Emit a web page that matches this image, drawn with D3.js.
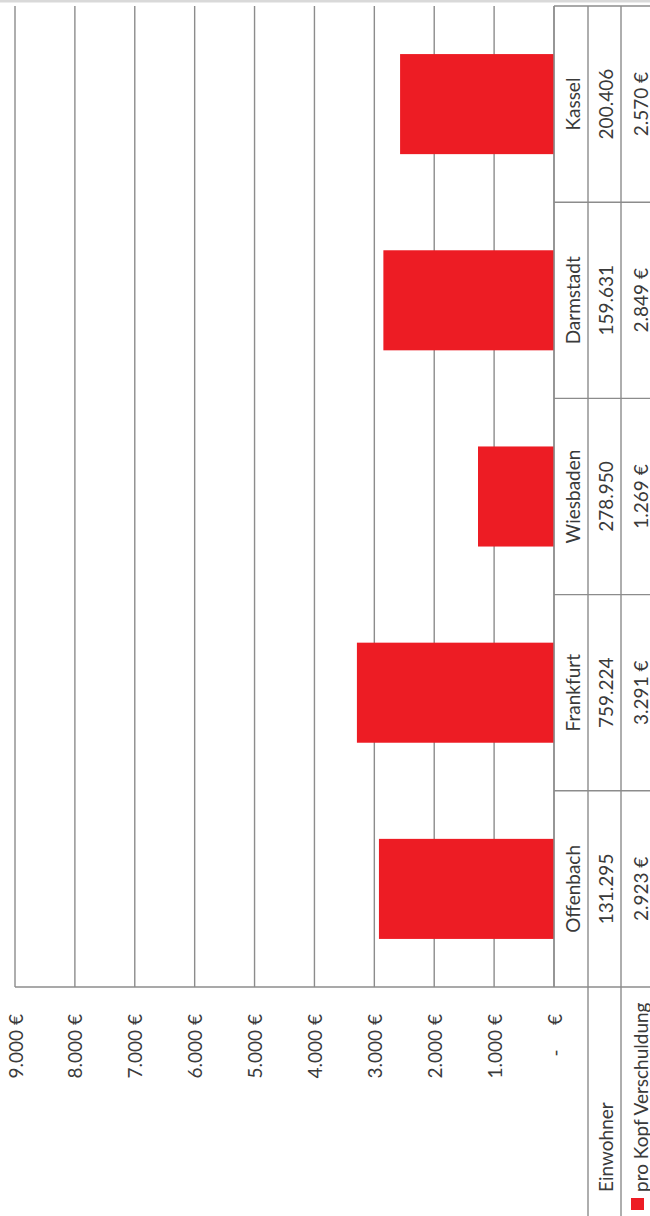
<!DOCTYPE html>
<html>
<head>
<meta charset="utf-8">
<script src="https://cdn.jsdelivr.net/npm/d3@7"></script>
<style>
  html, body { margin: 0; padding: 0; background: #fff; }
  svg { display: block; }
  text { font-family: Lato, "Open Sans", sans-serif; fill: #3a3a3a; }
</style>
</head>
<body>
<svg id="chart" width="650" height="1216"></svg>
<script>
// Kommunale Verschuldung pro Kopf, hessische Großstädte
const categories = ["Offenbach", "Frankfurt", "Wiesbaden", "Darmstadt", "Kassel"];
const einwohner  = [131295, 759224, 278950, 159631, 200406];
const proKopf    = [2923, 3291, 1269, 2849, 2570];
const tickValues = [0, 1000, 2000, 3000, 4000, 5000, 6000, 7000, 8000, 9000];
const rowLabels  = ["Einwohner", "pro Kopf Verschuldung"];

const de = d3.formatLocale({
  decimal: ",", thousands: ".", grouping: [3], currency: ["", " €"]
});
const fmtInt = de.format(",d");
const fmtEur = v => v === 0 ? "-     €" : fmtInt(v) + " €";

const svg = d3.select("#chart");
const FS = 19;
const gridColor = "#8c8c8c";

// the chart is drawn turned on its side: value axis runs right-to-left
const plotTop = 6, axisY = 987;
const x = d3.scaleLinear().domain([0, 9000]).range([554, 15]);
const cell = d3.scaleBand().domain(categories).range([axisY, plotTop]).padding(0);
const bar = d3.scaleBand().domain(categories).range([axisY, plotTop])
  .paddingInner(0.49).paddingOuter(0.245);

// table column positions (category name, Einwohner, pro Kopf)
const colEdges = [x(0), 588, 621, 660];
const colMid = i => (colEdges[i] + colEdges[i + 1]) / 2;

// outer frame strip
svg.append("rect").attr("x", 0).attr("y", 0).attr("width", 650).attr("height", 2.5)
  .attr("fill", "#d9d9d9");

// gridlines
svg.append("g").selectAll("line").data(tickValues).join("line")
  .attr("x1", d => x(d)).attr("x2", d => x(d))
  .attr("y1", plotTop).attr("y2", axisY)
  .attr("stroke", gridColor).attr("stroke-width", 1.4);

// bars
svg.append("g").selectAll("rect").data(categories).join("rect")
  .attr("x", (d, i) => x(proKopf[i]))
  .attr("y", d => bar(d))
  .attr("width", (d, i) => x(0) - x(proKopf[i]))
  .attr("height", bar.bandwidth())
  .attr("fill", "#ed1c24");

// data table lines
const tbl = svg.append("g").attr("stroke", gridColor).attr("stroke-width", 1.4);
tbl.append("line").attr("x1", x(0)).attr("x2", 650).attr("y1", plotTop).attr("y2", plotTop);
tbl.append("line").attr("x1", x(9000)).attr("x2", 650).attr("y1", axisY).attr("y2", axisY);
tbl.selectAll("line.sep").data(categories.slice(1)).join("line").attr("class", "sep")
  .attr("x1", x(0)).attr("x2", 650)
  .attr("y1", d => cell(d) + cell.bandwidth()).attr("y2", d => cell(d) + cell.bandwidth());
tbl.append("line").attr("x1", x(0)).attr("x2", x(0)).attr("y1", plotTop).attr("y2", axisY);
[588, 621].forEach(cx => {
  tbl.append("line").attr("x1", cx).attr("x2", cx).attr("y1", plotTop).attr("y2", 1216);
});

// rotated text helper
function vtext(g, px, py, str, anchor) {
  return g.append("text")
    .attr("transform", `translate(${px},${py}) rotate(-90)`)
    .attr("text-anchor", anchor)
    .attr("dominant-baseline", "central")
    .attr("font-size", FS)
    .style("white-space", "pre")
    .text(str);
}

// value axis labels
const axisG = svg.append("g");
tickValues.forEach(t => vtext(axisG, x(t), 1014, fmtEur(t), "end"));

// table cells
const cellsG = svg.append("g");
categories.forEach((c, i) => {
  const cy = cell(c) + cell.bandwidth() / 2;
  vtext(cellsG, colMid(0) + 1, cy, c, "middle");
  vtext(cellsG, colMid(1) + 1, cy, fmtInt(einwohner[i]), "middle");
  vtext(cellsG, 640, cy, fmtEur(proKopf[i]), "middle");
});

// row headers with legend key
vtext(cellsG, colMid(1) + 1, 1192, rowLabels[0], "start");
svg.append("rect").attr("x", 631).attr("y", 1198).attr("width", 13).attr("height", 12)
  .attr("fill", "#ed1c24");
vtext(cellsG, 640, 1192, rowLabels[1], "start");
</script>
</body>
</html>
